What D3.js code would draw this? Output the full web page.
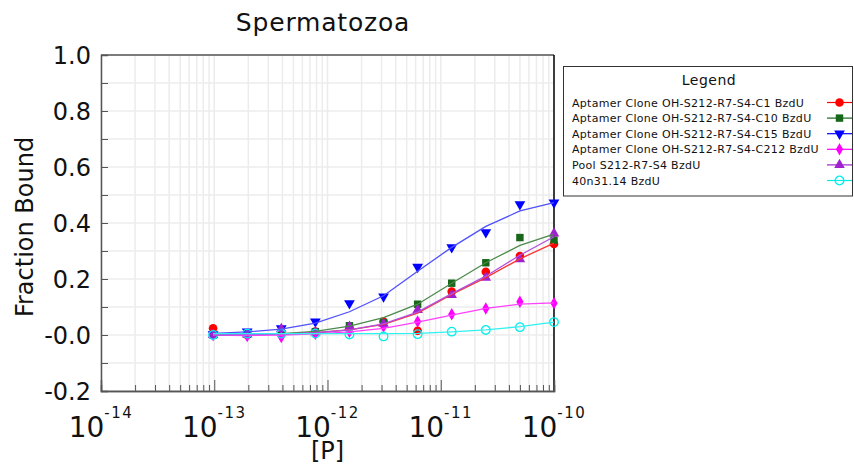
<!DOCTYPE html>
<html lang="en">
<head>
    <meta charset="UTF-8">
    <title>Spermatozoa</title>
    <style>
        body { margin: 0; background: #fff; }
        text { font-family: "DejaVu Sans", sans-serif; fill: #111; }
    </style>
</head>
<body>
    <svg width="854" height="464"></svg>

    <script src="https://d3js.org/d3.v7.min.js"></script>
    <script>
        // concentrations: 2-fold dilutions down from 1e-10
        var conc = [9.765625e-14, 1.953125e-13, 3.90625e-13, 7.8125e-13, 1.5625e-12,
                    3.125e-12, 6.25e-12, 1.25e-11, 2.5e-11, 5e-11, 1e-10];

        var seriesNames = [
            'Aptamer Clone OH-S212-R7-S4-C1 BzdU',
            'Aptamer Clone OH-S212-R7-S4-C10 BzdU',
            'Aptamer Clone OH-S212-R7-S4-C15 BzdU',
            'Aptamer Clone OH-S212-R7-S4-C212 BzdU',
            'Pool S212-R7-S4 BzdU',
            '40n31.14 BzdU'
        ];
        var seriesColors = ['#ff0000', '#17661a', '#0000ff', '#ff00ff', '#a020d0', '#00eeee'];
        var lineColors   = ['#ff3030', '#4a8a4a', '#5050ff', '#ff40ff', '#b050e0', '#30f0f0'];
        var seriesSymbols = ['circle', 'square', 'triangleDown', 'diamond', 'triangleUp', 'circleOpen'];

        // measured points
        var pointsC1   = [0.024, 0.000, 0.003, 0.012, 0.027, 0.048, 0.015, 0.155, 0.226, 0.282, 0.325];
        var pointsC10  = [0.000, 0.003, 0.007, 0.012, 0.033, 0.044, 0.110, 0.185, 0.258, 0.348, 0.339];
        var pointsC15  = [0.002, 0.012, 0.024, 0.048, 0.113, 0.137, 0.243, 0.313, 0.367, 0.467, 0.473];
        var pointsC212 = [0.000, -0.004, -0.007, 0.004, 0.012, 0.030, 0.048, 0.074, 0.095, 0.119, 0.113];
        var pointsPool = [0.000, 0.002, 0.022, 0.010, 0.030, 0.040, 0.089, 0.143, 0.205, 0.271, 0.363];
        var points40n  = [0.000, 0.005, 0.005, 0.005, 0.002, -0.005, 0.003, 0.012, 0.018, 0.028, 0.046];

        // fitted curves, read at the same concentrations
        var fitC1   = [0.000, 0.001, 0.003, 0.008, 0.018, 0.038, 0.078, 0.145, 0.205, 0.272, 0.328];
        var fitC10  = [0.000, 0.002, 0.005, 0.013, 0.032, 0.062, 0.110, 0.185, 0.258, 0.320, 0.360];
        var fitC15  = [0.006, 0.011, 0.021, 0.042, 0.083, 0.140, 0.228, 0.313, 0.388, 0.443, 0.473];
        var fitC212 = [0.000, -0.002, 0.000, 0.004, 0.011, 0.024, 0.046, 0.071, 0.095, 0.110, 0.115];
        var fitPool = [0.000, 0.001, 0.003, 0.008, 0.018, 0.040, 0.082, 0.148, 0.210, 0.285, 0.351];
        var fit40n  = [0.005, 0.005, 0.005, 0.005, 0.005, 0.005, 0.006, 0.011, 0.018, 0.030, 0.046];

        var allPoints = [pointsC1, pointsC10, pointsC15, pointsC212, pointsPool, points40n];
        var allFits   = [fitC1, fitC10, fitC15, fitC212, fitPool, fit40n];

        var yTickValues = [-0.2, 0.0, 0.2, 0.4, 0.6, 0.8, 1.0];
        var yTickLabels = ['-0.2', '-0.0', '0.2', '0.4', '0.6', '0.8', '1.0'];
        var xTickExps = [-14, -13, -12, -11, -10];

        var svg = d3.select('svg');
        var pLeft = 101, pRight = 554, pTop = 55, pBottom = 391;

        var x = d3.scaleLog().domain([1e-14, 1e-10]).range([pLeft, pRight]);
        var y = d3.scaleLinear().domain([-0.2, 1.0]).range([pBottom, pTop]);

        // minor values
        var xMinor = [];
        xTickExps.forEach(function(e) {
            if (e == -10) return;
            for (var k = 2; k <= 9; k++) xMinor.push(k * Math.pow(10, e));
        });
        var xMajor = xTickExps.map(function(e) { return Math.pow(10, e); });
        var yMinor = d3.range(-2, 11).map(function(d) { return d / 10; });

        // grid
        var grid = svg.append('g');
        grid.selectAll('.vg').data(xMinor.concat(xMajor))
            .enter().append('line')
            .attr('x1', function(d) { return x(d); }).attr('x2', function(d) { return x(d); })
            .attr('y1', pTop).attr('y2', pBottom)
            .attr('stroke', '#ececec').attr('stroke-width', 1.5);
        grid.selectAll('.hg').data(yMinor)
            .enter().append('line')
            .attr('x1', pLeft).attr('x2', pRight)
            .attr('y1', function(d) { return y(d); }).attr('y2', function(d) { return y(d); })
            .attr('stroke', '#ececec').attr('stroke-width', 1.5);

        // frame
        svg.append('line').attr('x1', pLeft).attr('x2', pRight).attr('y1', pTop).attr('y2', pTop)
            .attr('stroke', '#555').attr('stroke-width', 1.5);
        svg.append('line').attr('x1', pRight).attr('x2', pRight).attr('y1', pTop).attr('y2', pBottom)
            .attr('stroke', '#000').attr('stroke-width', 1.5);

        // y axis: ticks inside
        var yAxis = d3.axisRight(y).tickValues(yMinor).tickSize(7).tickFormat('');
        var gy = svg.append('g').attr('transform', 'translate(' + pLeft + ',0)').call(yAxis);
        gy.select('.domain').attr('stroke', '#555').attr('stroke-width', 1.5);
        gy.selectAll('.tick line').attr('stroke', '#555');

        svg.selectAll('.ylab').data(yTickValues).enter().append('text')
            .attr('x', 91).attr('y', function(d) { return y(d); })
            .attr('dy', '0.36em').attr('text-anchor', 'end')
            .style('font-size', '24px')
            .text(function(d, i) { return yTickLabels[i]; });

        // x axis: ticks inside
        var gx = svg.append('g').attr('transform', 'translate(0,' + pBottom + ')');
        gx.call(d3.axisTop(x).tickValues(xMinor).tickSize(6).tickFormat(''));
        gx.append('g').call(d3.axisTop(x).tickValues(xMajor).tickSize(11).tickFormat(''));
        gx.selectAll('.domain').attr('stroke', '#555').attr('stroke-width', 1.5);
        gx.selectAll('.tick line').attr('stroke', '#555');

        var xl = svg.selectAll('.xlab').data(xTickExps).enter().append('text')
            .attr('x', function(d) { return x(Math.pow(10, d)); })
            .attr('y', 437).attr('text-anchor', 'middle');
        xl.append('tspan').style('font-size', '28px').text('10');
        xl.append('tspan').style('font-size', '15px').style('letter-spacing', '1.5px').attr('dy', -19)
            .text(function(d) { return '-' + Math.abs(d); });

        // axis titles
        svg.append('text').attr('x', (pLeft + pRight) / 2).attr('y', 459)
            .attr('text-anchor', 'middle').style('font-size', '24px').text('[P]');
        svg.append('text').attr('transform', 'translate(33,227) rotate(-90)')
            .attr('text-anchor', 'middle').style('font-size', '24px').text('Fraction Bound');
        svg.append('text').attr('x', 323).attr('y', 31)
            .attr('text-anchor', 'middle').style('font-size', '25px').style('letter-spacing', '0.8px')
            .text('Spermatozoa');

        function symbolPath(kind, size) {
            var type = d3.symbolCircle;
            if (kind == 'square') type = d3.symbolSquare;
            if (kind == 'triangleDown' || kind == 'triangleUp') type = d3.symbolTriangle;
            if (kind == 'diamond') type = d3.symbolDiamond;
            return d3.symbol().type(type).size(size)();
        }
        var symbolSize = { circle: 58, square: 55, triangleDown: 50, triangleUp: 48, diamond: 45, circleOpen: 58 };

        function drawMarker(g, kind, color, cx, cy) {
            var p = g.append('path').attr('d', symbolPath(kind, symbolSize[kind]))
                .attr('transform', 'translate(' + cx + ',' + cy + ')' + (kind == 'triangleDown' ? ' rotate(180)' : ''));
            if (kind == 'circleOpen') p.attr('fill', 'none').attr('stroke', color).attr('stroke-width', 1.3);
            else p.attr('fill', color);
        }

        var line = d3.line()
            .x(function(d, i) { return x(conc[i]); })
            .y(function(d) { return y(d); });

        // points first, then curves over them
        var plot = svg.append('g');
        allPoints.forEach(function(vals, s) {
            vals.forEach(function(v, i) {
                drawMarker(plot, seriesSymbols[s], seriesColors[s], x(conc[i]), y(v));
            });
        });
        allFits.forEach(function(vals, s) {
            plot.append('path').datum(vals).attr('d', line)
                .attr('fill', 'none').attr('stroke', lineColors[s]).attr('stroke-width', 1.3);
        });

        // legend
        var lg = svg.append('g');
        lg.append('rect').attr('x', 563.5).attr('y', 66.5).attr('width', 289).attr('height', 129.5)
            .attr('fill', '#fff').attr('stroke', '#333').attr('stroke-width', 1);
        lg.append('text').attr('x', 709).attr('y', 85).attr('text-anchor', 'middle')
            .style('font-size', '14px').style('letter-spacing', '0.5px').text('Legend');
        seriesNames.forEach(function(name, s) {
            var yy = 106.5 + s * 15.6;
            lg.append('text').attr('x', 572).attr('y', yy).style('font-size', '11px')
                .style('letter-spacing', '0.3px').text(name);
            lg.append('line').attr('x1', 827).attr('x2', 852).attr('y1', yy - 4).attr('y2', yy - 4)
                .attr('stroke', seriesColors[s]).attr('stroke-width', 1.2);
            drawMarker(lg, seriesSymbols[s], seriesColors[s], 839.5, yy - 4);
        });
    </script>
</body>
</html>
